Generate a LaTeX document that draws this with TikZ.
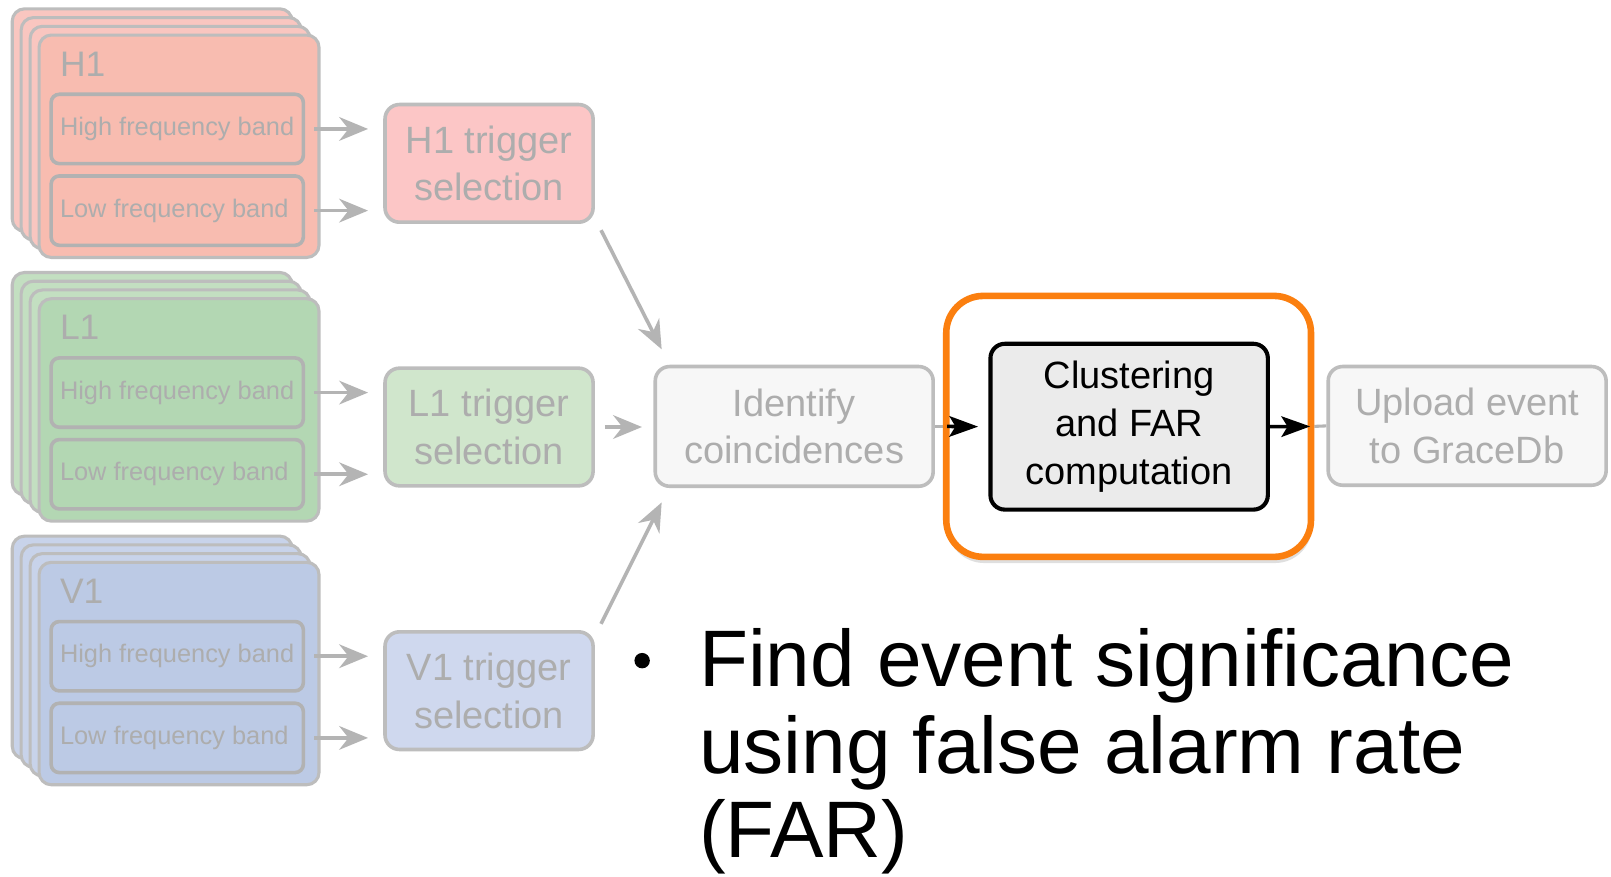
\documentclass[tikz,border=0pt]{standalone}
\usepackage{fontspec}
\setmainfont{Liberation Sans}
\usetikzlibrary{arrows.meta,calc,shadows}
\pgfdeclarelayer{background}
\pgfsetlayers{background,main}
\definecolor{gborder}{HTML}{BDBDBD}
\definecolor{bandborder}{HTML}{B2B2B2}
\definecolor{gtext}{HTML}{ADADAD}
\definecolor{garrowc}{HTML}{B4B4B4}
\definecolor{hfront}{HTML}{F8BCB0}
\definecolor{hback}{HTML}{F9C6C0}
\definecolor{htrig}{HTML}{FCC6C6}
\definecolor{lfront}{HTML}{B3D7B3}
\definecolor{lback}{HTML}{C3DFC1}
\definecolor{ltrig}{HTML}{D0E6CC}
\definecolor{vfront}{HTML}{BCCAE5}
\definecolor{vback}{HTML}{C8D3EA}
\definecolor{vtrig}{HTML}{CFD8EE}
\definecolor{boxfill}{HTML}{F7F7F7}
\definecolor{orangehl}{HTML}{FB7F0F}
\definecolor{innerfill}{HTML}{EBEBEB}
\begin{document}
\begin{tikzpicture}[x=0.5pt,y=-0.5pt,
  card/.style={draw=gborder, line width=1.5pt, rounded corners=6pt, minimum width=136.25pt, minimum height=108.25pt, inner sep=0pt},
  band/.style={draw=bandborder, line width=1.75pt, rounded corners=4pt, minimum width=122.75pt, minimum height=33.75pt, inner sep=0pt},
  bandtxt/.style={text=gtext, font=\fontsize{12.35}{14}\selectfont, anchor=west, inner sep=0pt},
  lab/.style={text=gtext, font=\fontsize{17.25}{20}\selectfont, anchor=base west, inner sep=0pt},
  gbox/.style={draw=gborder, line width=1.75pt, rounded corners=7pt, align=center, text=gtext, font=\fontsize{18.5}{23.25}\selectfont, inner sep=0pt},
  garrow/.style={draw=garrowc, line width=1.75pt, -{Stealth[length=14pt,width=11.5pt,inset=4.5pt]}},
  gline/.style={draw=garrowc, line width=1.5pt},
  barrow/.style={draw=black, line width=1.75pt, -{Stealth[length=14pt,width=10pt,inset=3pt]}},
  bullettxt/.style={text=black, font=\fontsize{39}{43}\selectfont, anchor=base west, inner sep=0pt},
]
\begin{pgfonlayer}{background}
\fill[white] (0,0) rectangle (1568,853);
\end{pgfonlayer}
\useasboundingbox (0,0) rectangle (1568,853);

\foreach \g/\txt/\dy/\cb/\cf/\ct in {h1/H1/0/hback/hfront/htrig, l1/L1/256.6/lback/lfront/ltrig, v1/V1/513.2/vback/vfront/vtrig} {
  \foreach \k in {0,1,2} {
    \node[card, fill=\cb] (\g card\k) at ({148.15+8.7*\k},{116.85+8.5*\k+\dy}) {};
  }
  \node[card, fill=\cf] (\g card3) at (174.25,{142.35+\dy}) {};
  \node[lab] (\g lab) at (58,{74+\dy}) {\txt};
  \node[band, fill=\cf] (\g hi) at (172.5,{125.5+\dy}) {};
  \node[bandtxt] (\g hit) at ($(\g hi.west)+(10,0)$) {High frequency band};
  \node[band, fill=\cf] (\g lo) at (172.5,{205+\dy}) {};
  \node[bandtxt] (\g lot) at ($(\g lo.west)+(10,0)$) {Low frequency band};
  \node[gbox, fill=\ct, minimum width=101.25pt, minimum height=57.25pt] (\g trig) at (476,{159+\dy}) {\txt{} trigger\\selection};
  \draw[garrow, shorten <=4.4pt, shorten >=7.4pt] (\g hi.east) -- (\g hi.east -| \g trig.west);
  \draw[garrow, shorten <=4.4pt, shorten >=7.4pt] (\g lo.east) -- (\g lo.east -| \g trig.west);
}

\node[gbox, fill=boxfill, minimum width=135.25pt, minimum height=58.25pt] (ident) at (773,415) {Identify\\coincidences};
\node[gbox, fill=boxfill, minimum width=135.25pt, minimum height=57.75pt] (upload) at (1428,414.5) {Upload event\\to GraceDb};

\draw[garrow] ($(h1trig.south east)+(6,6)$) -- ($(ident.north west)+(8,-15)$);
\draw[garrow] ($(v1trig.north east)+(6,-6)$) -- ($(ident.south west)+(8,14)$);
\draw[garrow, shorten <=4.9pt, shorten >=5.6pt] (l1trig.east) -- (l1trig.east -| ident.west);

\node[draw=orangehl, line width=3.2pt, rounded corners=18pt, fill=white, minimum width=177.5pt, minimum height=127pt,
      drop shadow={shadow xshift=0.5pt, shadow yshift=-3pt, opacity=0.25}] (orange) at (1098.5,415) {};
\node[draw=black, line width=2pt, rounded corners=7pt, fill=innerfill, minimum width=135pt, minimum height=80.7pt,
      align=center, font=\fontsize{18.5}{23.25}\selectfont, inner sep=0pt] (inner) at (1099,415.3) {Clustering\\and FAR\\computation};

\begin{pgfonlayer}{background}
\draw[gline] (ident.east) -- (orange.west);
\draw[gline] (orange.east) -- (upload.west);
\end{pgfonlayer}
\draw[barrow, shorten <=2pt, shorten >=5pt] (orange.west) -- (inner.west);
\draw[barrow, shorten >=2pt] (inner.east) -- (orange.east);

\node[circle, fill=black, minimum size=7.5pt, inner sep=0pt] (bullet) at (625,643) {};
\node[bullettxt] (b1) at (680,668) {Find event significance};
\node[bullettxt] (b2) at (680,753) {using false alarm rate};
\node[bullettxt] (b3) at (680,835) {(FAR)};
\end{tikzpicture}
\end{document}
